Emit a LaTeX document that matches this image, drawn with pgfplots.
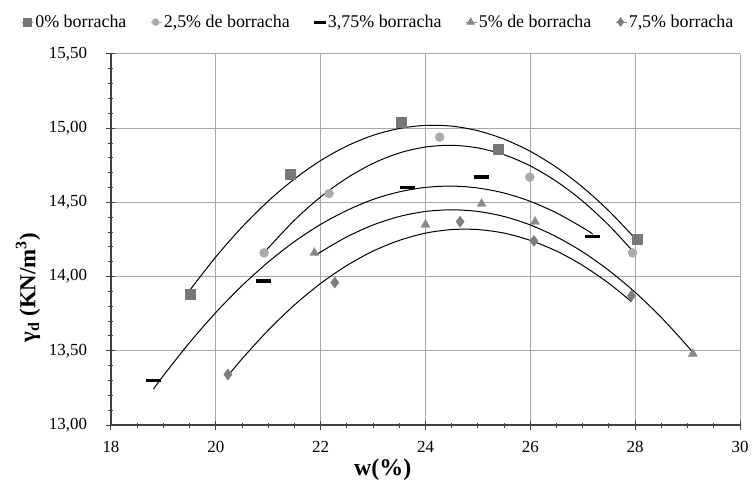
\documentclass[border=0pt]{standalone}
\usepackage{fontspec}
\setmainfont{Liberation Serif}
\usepackage{pgfplots}
\pgfplotsset{compat=1.18}
\definecolor{sqc}{HTML}{777777}
\definecolor{cic}{HTML}{ABABAB}
\definecolor{trc}{HTML}{8A8A8A}
\definecolor{dic}{HTML}{7E7E7E}
\definecolor{gridc}{HTML}{A8A8A8}
\definecolor{axc}{HTML}{404040}
\begin{document}
\begin{tikzpicture}
\begin{axis}[
  name=ax,
  scale only axis,
  width=629bp, height=371bp,
  xmin=18, xmax=30, ymin=13, ymax=15.5,
  xtick={18,20,...,30},
  ytick={13,13.5,...,15.5},
  minor x tick num=3,
  minor y tick num=4,
  axis x line*=bottom,
  axis y line*=left,
  axis line style={axc, line width=1.4bp, -},
  tick style={axc, line width=1bp},
  tick align=center,
  major tick length=9bp,
  minor tick length=5bp,
  grid=major,
  major grid style={gridc, line width=1bp},
  /pgf/number format/assume math mode=true,
  ticklabel style={font=\fontsize{17}{19}\selectfont, text=black},
  xticklabel style={yshift=-8bp},
  yticklabel style={/pgf/number format/.cd, fixed, fixed zerofill, precision=2, use comma, /tikz/.cd, xshift=-16bp},
  xlabel={\textbf{w(\%)}},
  xlabel style={font=\fontsize{24}{26}\selectfont, at={(axis description cs:0.432,-0.12)}, anchor=center},
  ylabel={\textbf{γ\textsubscript{d} (KN/m\textsuperscript{3})}},
  ylabel style={font=\fontsize{23}{25}\selectfont, at={(axis description cs:-0.132,0.37)}, anchor=center, rotate=0},
  legend columns=5,
  legend style={draw=none, fill=none, font=\fontsize{18}{20}\selectfont, at={(axis description cs:0.4255,1.086)}, anchor=center, /tikz/every even column/.append style={column sep=22bp}, inner sep=0pt},
  legend cell align=left,
  legend image code/.code={\path (0bp,0bp) -- (11bp,0bp); \draw[#1] plot coordinates {(5bp,0bp)};},
]
% legend images (small markers as in the reference)
\addlegendimage{only marks, mark=square*, mark size=4bp, color=sqc}
\addlegendentry{0\% borracha}
\addlegendimage{only marks, mark=*, mark size=3.5bp, color=cic}
\addlegendentry{2,5\% de borracha}
\addlegendimage{only marks, mark=-, mark size=6bp, mark options={line width=3bp}, color=black}
\addlegendentry{3,75\% borracha}
\addlegendimage{only marks, mark=triangle*, mark size=4.5bp, color=trc}
\addlegendentry{5\% de borracha}
\addlegendimage{only marks, mark=diamond*, mark size=4.5bp, color=dic}
\addlegendentry{7,5\% borracha}
% data points
\addplot[only marks, mark=square*, mark size=5bp, color=sqc, forget plot] coordinates {
 (19.52,13.88) (21.42,14.69) (23.54,15.04) (25.39,14.86) (28.04,14.25)};
\addplot[only marks, mark=*, mark size=4.5bp, color=cic, forget plot] coordinates {
 (20.92,14.16) (22.16,14.56) (24.27,14.94) (25.99,14.67) (27.95,14.16)};
\addplot[only marks, mark=-, mark size=7.5bp, mark options={line width=3.5bp}, color=black, forget plot] coordinates {
 (18.81,13.30) (20.91,13.97) (23.66,14.60) (25.07,14.67) (27.19,14.27)};
\addplot[only marks, mark=triangle*, mark size=5.2bp, color=trc, forget plot] coordinates {
 (21.88,14.16) (24.00,14.35) (25.07,14.49) (26.09,14.37) (29.10,13.48)};
\addplot[only marks, mark=diamond*, mark size=5.5bp, color=dic, forget plot] coordinates {
 (20.23,13.34) (22.27,13.96) (24.66,14.37) (26.07,14.24) (27.93,13.87)};
% trend lines
\addplot[black, line width=1bp, smooth, forget plot] coordinates {
 (19.52,13.916) (20,14.133) (20.5,14.334) (21,14.509) (21.5,14.658) (22,14.782)
 (22.5,14.880) (23,14.952) (23.5,14.998) (24,15.019) (24.5,15.014) (25,14.983)
 (25.5,14.926) (26,14.844) (26.5,14.736) (27,14.602) (27.5,14.442) (28,14.257) (28.04,14.241)};
\addplot[black, line width=1bp, smooth, forget plot] coordinates {
 (20.94,14.170) (21.5,14.380) (22,14.537) (22.5,14.664) (23,14.763) (23.5,14.833)
 (24,14.873) (24.5,14.885) (25,14.867) (25.5,14.821) (26,14.746) (26.5,14.641)
 (27,14.508) (27.5,14.345) (27.95,14.174)};
\addplot[black, line width=1bp, smooth, forget plot] coordinates {
 (18.81,13.242) (19,13.333) (19.5,13.556) (20,13.758) (20.5,13.939) (21,14.098)
 (21.5,14.236) (22,14.352) (22.5,14.446) (23,14.520) (23.5,14.571) (24,14.601)
 (24.5,14.610) (25,14.597) (25.5,14.563) (26,14.507) (26.5,14.429) (27,14.330) (27.19,14.287)};
\addplot[black, line width=1bp, smooth, forget plot] coordinates {
 (21.9,14.143) (22,14.166) (22.5,14.268) (23,14.348) (23.5,14.405) (24,14.439)
 (24.5,14.450) (25,14.439) (25.5,14.405) (26,14.348) (26.5,14.268) (27,14.166)
 (27.5,14.041) (28,13.894) (28.5,13.724) (29,13.531) (29.1,13.489)};
\addplot[black, line width=1bp, smooth, forget plot] coordinates {
 (20.25,13.340) (20.5,13.446) (21,13.639) (21.5,13.809) (22,13.954) (22.5,14.075)
 (23,14.172) (23.5,14.244) (24,14.293) (24.5,14.317) (25,14.317) (25.5,14.293)
 (26,14.244) (26.5,14.172) (27,14.075) (27.5,13.954) (27.93,13.831)};
\end{axis}
\pgfresetboundingbox
\path (ax.south west) ++(-111bp,-57bp) rectangle ([shift={(12bp,54bp)}]ax.north east);
\end{tikzpicture}
\end{document}
